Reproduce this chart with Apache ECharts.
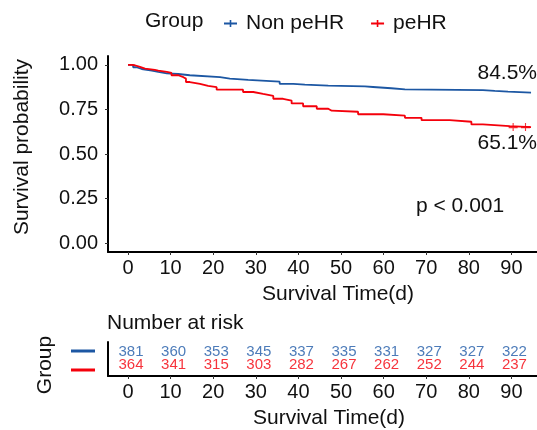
<!DOCTYPE html>
<html>
<head>
<meta charset="utf-8">
<script src="https://cdn.jsdelivr.net/npm/echarts@6/dist/echarts.min.js"></script>
<style>html,body{margin:0;padding:0;background:#fff;}#c{width:537px;height:430px;}</style>
</head>
<body>
<div id="c"></div>
<script>
// ---- data ----
const groupNames = ['Non peHR', 'peHR'];
const timesBlue = [0, 1.2, 2, 3.2, 5.6, 7.1, 9.1, 11.8, 14.5, 21.6, 23.9, 28.2, 35.6, 38.8, 41.5, 47, 55.6, 57.5, 61.8, 65, 83.3, 86.1, 89.2, 94.6];
const survBlue  = [1, 0.987, 0.977, 0.968, 0.961, 0.953, 0.949, 0.942, 0.931, 0.923, 0.916, 0.906, 0.893, 0.889, 0.884, 0.879, 0.876, 0.869, 0.863, 0.859, 0.854, 0.85, 0.845, 0.845];
const timesRed  = [0, 0.9, 1.6, 2.8, 4, 6.3, 7.1, 9.1, 10.2, 11.8, 13, 13.6, 14.5, 16.9, 18.8, 20.8, 27, 29.4, 31.7, 34.1, 36.4, 38.4, 41.1, 44.3, 47, 47.8, 54, 59.9, 65, 68.9, 75.5, 80.6, 83.3, 89.6, 94.6];
const survRed   = [1, 0.998, 0.989, 0.979, 0.972, 0.968, 0.961, 0.955, 0.942, 0.931, 0.923, 0.904, 0.893, 0.882, 0.875, 0.861, 0.848, 0.837, 0.826, 0.81, 0.8, 0.784, 0.768, 0.754, 0.743, 0.737, 0.723, 0.715, 0.703, 0.69, 0.681, 0.666, 0.657, 0.651, 0.651];
const censorTimesRed = [90.4, 93.3];
const censorSurvRed  = [0.651, 0.651];
const xTicks = [0, 10, 20, 30, 40, 50, 60, 70, 80, 90];
const yTicks = [0, 0.25, 0.5, 0.75, 1];
const riskTimes = [0, 10, 20, 30, 40, 50, 60, 70, 80, 90];
const riskBlue  = [381, 360, 353, 345, 337, 335, 331, 327, 327, 322];
const riskRed   = [364, 341, 315, 303, 282, 267, 262, 252, 244, 237];
const finalLabels = ['84.5%', '65.1%'];
const pText = 'p < 0.001';

// ---- styling ----
const BLUE = '#1c57a3';
const RED = '#f4000b';
const FONT = '"Liberation Sans", Arial, sans-serif';
const TXT = '#111';
const FS = 21;

const chart = echarts.init(document.getElementById('c'), null, {renderer: 'canvas'});

const zip = (a, b) => a.map((v, i) => [v, b[i]]);
const plusIcon = 'path://M0,3H13V5H0Z M5.7,0.5H7.3V7.5H5.7Z';

const xAxisCommon = {
  type: 'value', min: -4.7, max: 96,
  splitLine: {show: false},
  axisLine: {show: true, onZero: false, lineStyle: {color: '#000', width: 2}},
  axisTick: {show: true, length: 3, lineStyle: {color: '#333', width: 1}, customValues: xTicks},
  axisLabel: {show: true, customValues: xTicks, margin: 6, fontSize: 20, color: TXT, fontFamily: FONT}
};

const option = {
  backgroundColor: '#fff',
  animation: false,
  textStyle: {fontFamily: FONT},
  legend: {
    left: 219, top: 8,
    data: groupNames,
    icon: plusIcon,
    itemWidth: 13, itemHeight: 8,
    itemGap: 27,
    textStyle: {fontSize: FS, color: TXT, fontFamily: FONT, padding: [0, 0, 0, 4]}
  },
  grid: [
    {left: 108, right: 0, top: 56, bottom: 178, containLabel: false},
    {left: 108, right: 0, top: 342, bottom: 54, containLabel: false}
  ],
  xAxis: [
    Object.assign({gridIndex: 0}, xAxisCommon),
    Object.assign({gridIndex: 1}, xAxisCommon)
  ],
  yAxis: [
    {
      type: 'value', gridIndex: 0, min: -0.05, max: 1.05,
      splitLine: {show: false},
      axisLine: {show: true, onZero: false, lineStyle: {color: '#000', width: 2}},
      axisTick: {show: true, length: 3, lineStyle: {color: '#333', width: 1}, customValues: yTicks},
      axisLabel: {show: true, customValues: yTicks, margin: 10, fontSize: 20, color: TXT, fontFamily: FONT,
        formatter: v => v.toFixed(2)}
    },
    {
      type: 'value', gridIndex: 1, min: -0.88, max: 1.81,
      splitLine: {show: false},
      axisLine: {show: true, onZero: false, lineStyle: {color: '#000', width: 2}},
      axisTick: {show: false},
      axisLabel: {show: false}
    }
  ],
  series: [
    {
      name: groupNames[0], type: 'line', step: 'end', xAxisIndex: 0, yAxisIndex: 0,
      data: zip(timesBlue, survBlue), showSymbol: false, symbol: 'none',
      lineStyle: {color: BLUE, width: 1.8}, itemStyle: {color: BLUE}
    },
    {
      name: groupNames[1], type: 'line', step: 'end', xAxisIndex: 0, yAxisIndex: 0,
      data: zip(timesRed, survRed), showSymbol: false, symbol: 'none',
      lineStyle: {color: RED, width: 1.8}, itemStyle: {color: RED}
    },
    {
      name: 'censorRed', type: 'scatter', xAxisIndex: 0, yAxisIndex: 0,
      data: zip(censorTimesRed, censorSurvRed),
      symbol: plusIcon, symbolSize: [9, 8], itemStyle: {color: RED}, silent: true
    },
    {
      name: 'riskBlue', type: 'scatter', xAxisIndex: 1, yAxisIndex: 1,
      data: riskTimes.map((t, i) => [t, 1, riskBlue[i]]),
      symbolSize: 0, silent: true,
      label: {show: true, position: 'inside', offset: [3, 0], formatter: p => p.value[2],
        color: '#1f5aa8', fontSize: 15, fontFamily: FONT}
    },
    {
      name: 'riskRed', type: 'scatter', xAxisIndex: 1, yAxisIndex: 1,
      data: riskTimes.map((t, i) => [t, 0, riskRed[i]]),
      symbolSize: 0, silent: true,
      label: {show: true, position: 'inside', offset: [3, 0], formatter: p => p.value[2],
        color: RED, fontSize: 15, fontFamily: FONT}
    }
  ],
  graphic: [
    {type: 'text', x: 145, y: 21,
      style: {text: 'Group', fontSize: FS, fill: TXT, fontFamily: FONT, align: 'left', verticalAlign: 'middle'}},
    {type: 'text', x: 22, y: 147, rotation: Math.PI / 2,
      style: {text: 'Survival probability', fontSize: FS, fill: TXT, fontFamily: FONT, align: 'center', verticalAlign: 'middle'}},
    {type: 'text', x: 338, y: 294,
      style: {text: 'Survival Time(d)', fontSize: FS, fill: TXT, fontFamily: FONT, align: 'center', verticalAlign: 'middle'}},
    {type: 'text', x: 537, y: 73,
      style: {text: finalLabels[0], fontSize: FS, fill: TXT, fontFamily: FONT, align: 'right', verticalAlign: 'middle'}},
    {type: 'text', x: 537, y: 143,
      style: {text: finalLabels[1], fontSize: FS, fill: TXT, fontFamily: FONT, align: 'right', verticalAlign: 'middle'}},
    {type: 'text', x: 416, y: 206,
      style: {text: pText, fontSize: FS, fill: TXT, fontFamily: FONT, align: 'left', verticalAlign: 'middle'}},
    {type: 'text', x: 107, y: 323,
      style: {text: 'Number at risk', fontSize: FS, fill: TXT, fontFamily: FONT, align: 'left', verticalAlign: 'middle'}},
    {type: 'text', x: 45, y: 365, rotation: Math.PI / 2,
      style: {text: 'Group', fontSize: FS, fill: TXT, fontFamily: FONT, align: 'center', verticalAlign: 'middle'}},
    {type: 'line', shape: {x1: 71, y1: 351, x2: 95, y2: 351}, style: {stroke: BLUE, lineWidth: 3}},
    {type: 'line', shape: {x1: 71, y1: 370, x2: 95, y2: 370}, style: {stroke: RED, lineWidth: 3}},
    {type: 'text', x: 329, y: 418,
      style: {text: 'Survival Time(d)', fontSize: FS, fill: TXT, fontFamily: FONT, align: 'center', verticalAlign: 'middle'}}
  ]
};
chart.setOption(option);
</script>
</body>
</html>
